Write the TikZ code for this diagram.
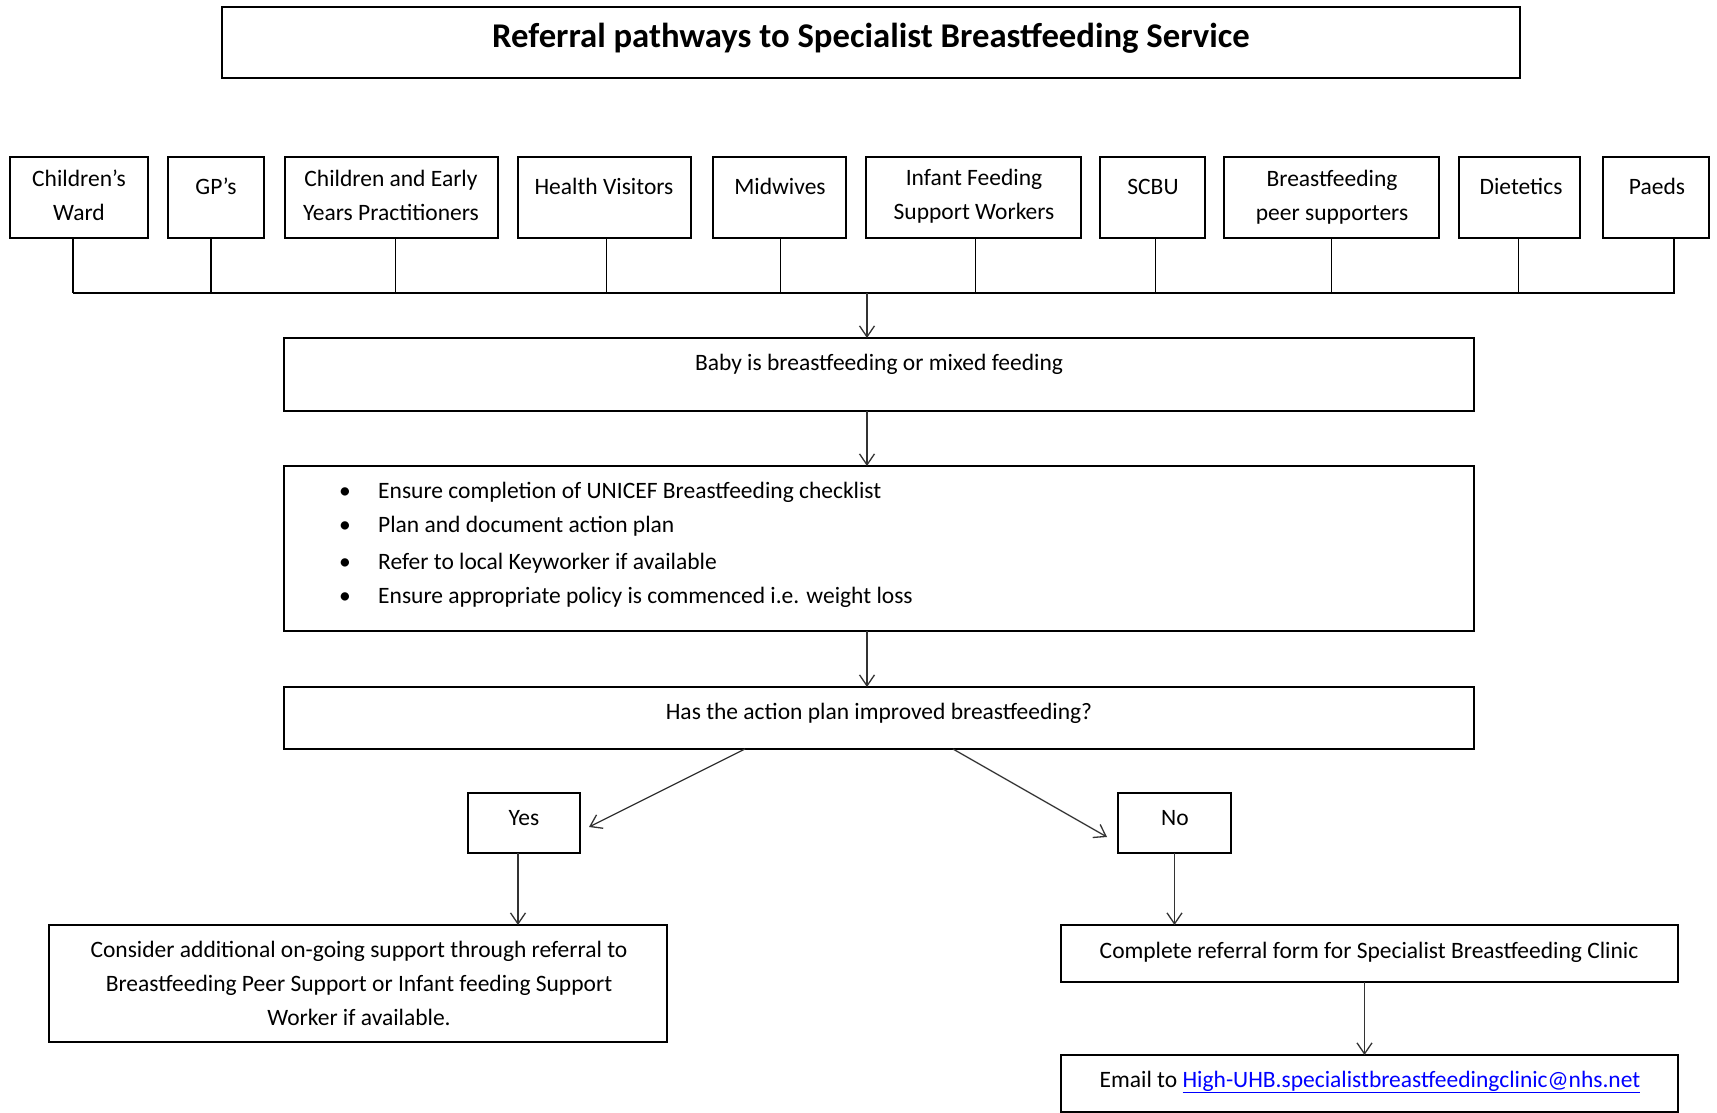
\documentclass[tikz,border=0pt]{standalone}
\usepackage{fontspec}
\setmainfont{Carlito}
\usetikzlibrary{arrows.meta}
\definecolor{linkblue}{RGB}{0,0,255}
\newcommand\mkbox[5]{\node[box,minimum width={#4-#2},minimum height={#5-#3}] (#1) at ({(#2+#4)/2},{(#3+#5)/2}) {};}
\begin{document}
\begin{tikzpicture}[x=1pt,y=-1pt,
  box/.style={draw=black,line width=1.8pt,inner sep=0pt,outer sep=0pt},
  txtm/.style={font=\fontsize{23.5}{34}\selectfont,inner sep=0pt,align=center},
  txt/.style={txtm,text height=19pt,text depth=1pt},
  arr/.style={draw=black!80,line width=1.3pt,-{Straight Barb[length=11pt,width=15pt,line width=1.3pt]}},
  lnk/.style={draw=black,line width=1.8pt}]
\useasboundingbox (0,0) rectangle (1717,1113);
\fill[white] (0,0) rectangle (1717,1113);

% title
\mkbox{title}{222}{7}{1520}{78}
\node[txtm,font=\fontsize{34.7}{40}\selectfont\bfseries,text height=26pt,text depth=5pt] (titlet) at (871,37) {Referral pathways to Specialist Breastfeeding Service};

% top row
\mkbox{cw}{10}{157}{148}{238}
\node[txtm] (cwt) at (79,195) {Children’s\\Ward};
\mkbox{gp}{168}{157}{264}{238}
\node[txt] (gpt) at (216,185) {GP’s};
\mkbox{ce}{285}{157}{498}{238}
\node[txtm] (cet) at (391,195) {Children and Early\\Years Practitioners};
\mkbox{hv}{518}{157}{691}{238}
\node[txt] (hvt) at (604,185) {Health Visitors};
\mkbox{mw}{713}{157}{846}{238}
\node[txt] (mwt) at (780,185) {Midwives};
\mkbox{ifw}{866}{157}{1081}{238}
\node[txtm] (ifwt) at (974,196) {Infant Feeding\\Support Workers};
\mkbox{scbu}{1100}{157}{1205}{238}
\node[txt] (scbut) at (1153,185) {SCBU};
\mkbox{bf}{1224}{157}{1439}{238}
\node[txtm] (bft) at (1332,197) {Breastfeeding\\peer supporters};
\mkbox{diet}{1459}{157}{1580}{238}
\node[txt] (dietit) at (1521,185) {Dietetics};
\mkbox{paeds}{1603}{157}{1709}{238}
\node[txt] (paedst) at (1657,185) {Paeds};

% bus
\coordinate (busL) at (73,293);
\coordinate (busR) at (1675,293);
\coordinate (busdrop) at (867,293);
\draw[lnk] (busL) -- (busR);
\coordinate (c1) at ([xshift=-6pt]cw.south);
\coordinate (c2) at ([xshift=-5pt]gp.south);
\coordinate (c3) at ([xshift=4pt]ce.south);
\coordinate (c4) at ([xshift=2pt]hv.south);
\coordinate (c5) at ([xshift=1pt]mw.south);
\coordinate (c6) at ([xshift=2pt]ifw.south);
\coordinate (c7) at ([xshift=3pt]scbu.south);
\coordinate (c8) at (bf.south);
\coordinate (c9) at ([xshift=-1pt]diet.south);
\coordinate (c10) at ([xshift=18pt]paeds.south);
\foreach \c in {c1,c2,c3,c4,c5,c6,c7,c8,c9,c10}{
  \draw[lnk] (\c) -- (\c |- busL);
}

% baby
\mkbox{baby}{284}{338}{1474}{411}
\node[txt] (babyt) at (879,361) {Baby is breastfeeding or mixed feeding};
\draw[arr] (busdrop) -- (busdrop |- baby.north);

% checklist
\mkbox{check}{284}{466}{1474}{631}
\coordinate (bd) at ([xshift=-12pt]baby.south);
\draw[arr] (bd) -- (bd |- check.north);
\node[txt,anchor=center] (b1) at (345,489) {\textbullet};
\node[txt,anchor=center] (b2) at (345,523) {\textbullet};
\node[txt,anchor=center] (b3) at (345,560) {\textbullet};
\node[txt,anchor=center] (b4) at (345,594) {\textbullet};
\node[txt,anchor=west] (l1) at (378,489) {Ensure completion of UNICEF Breastfeeding checklist};
\node[txt,anchor=west] (l2) at (378,523) {Plan and document action plan};
\node[txt,anchor=west] (l3) at (378,560) {Refer to local Keyworker if available};
\node[txt,anchor=west] (l4) at (378,594) {Ensure appropriate policy is commenced i.e. weight loss};

% question
\mkbox{question}{284}{687}{1474}{749}
\coordinate (cd) at ([xshift=-12pt]check.south);
\draw[arr] (cd) -- (cd |- question.north);
\node[txt] (questiont) at (879,710) {Has the action plan improved breastfeeding?};

% yes / no
\mkbox{yes}{468}{793}{580}{853}
\node[txt] (yest) at (524,816) {Yes};
\mkbox{no}{1118}{793}{1231}{853}
\node[txt] (not) at (1175,816) {No};
\draw[arr] ([xshift=-134pt]question.south) -- ([xshift=9pt,yshift=-4pt]yes.east);
\draw[arr] ([xshift=74pt]question.south) -- ([xshift=-11pt,yshift=-14pt]no.west);

% consider
\mkbox{consider}{49}{925}{667}{1042}
\node[txtm] (considert) at (359,983) {Consider additional on-going support through referral to\\Breastfeeding Peer Support or Infant feeding Support\\Worker if available.};
\coordinate (yd) at ([xshift=-6pt]yes.south);
\draw[arr] (yd) -- (yd |- consider.north);

% complete
\mkbox{complete}{1061}{925}{1678}{982}
\node[txt] (completet) at (1369,949) {Complete referral form for Specialist Breastfeeding Clinic};
\draw[arr] (no.south) -- (no.south |- complete.north);

% email
\mkbox{email}{1061}{1055}{1678}{1112}
\node[txt] (emailt) at (1370,1078) {Email to \textcolor{linkblue}{\underline{High-UHB.specialistbreastfeedingclinic@nhs.net}}};
\coordinate (ed) at ([xshift=-5pt]complete.south);
\draw[arr] (ed) -- (ed |- email.north);
\end{tikzpicture}
\end{document}
